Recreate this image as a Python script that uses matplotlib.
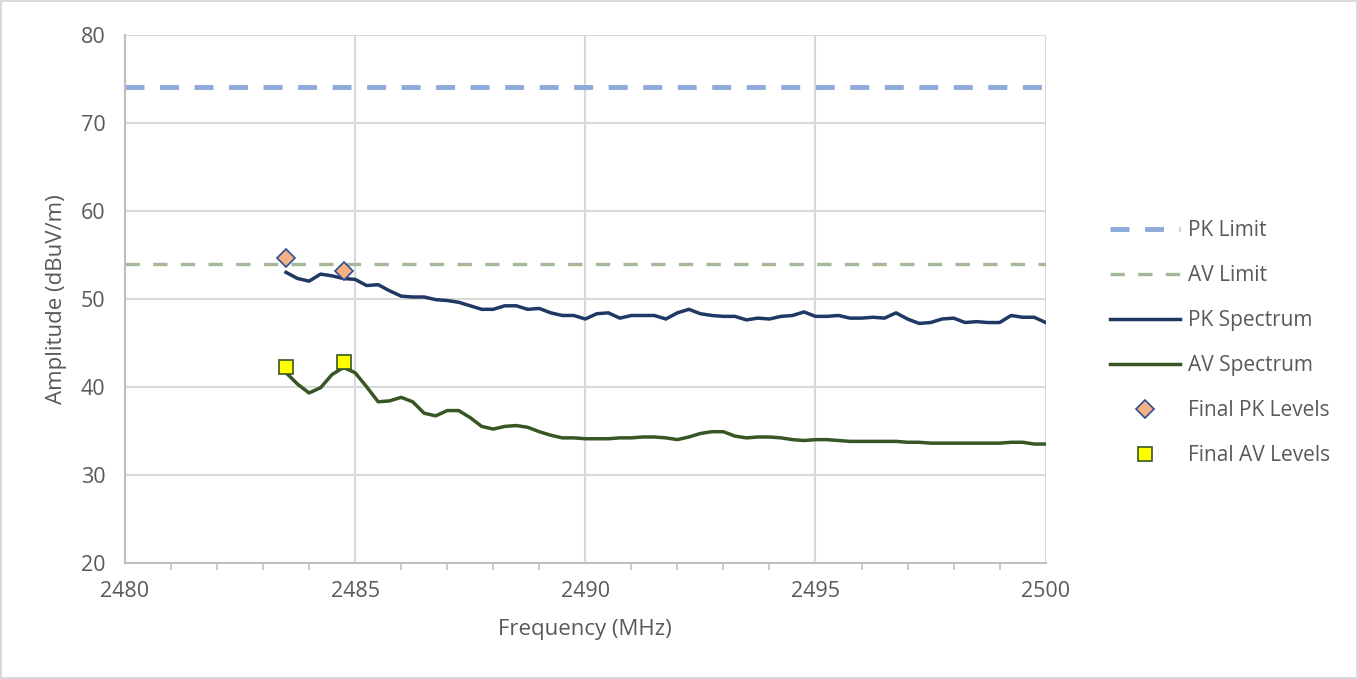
import numpy as np
import matplotlib.pyplot as plt
from matplotlib.ticker import MultipleLocator

# frequencies of the measured spectra (MHz)
freq = np.arange(2483.5, 2500.01, 0.25)

pk_spectrum = [53.0, 52.3, 52.0, 52.8, 52.6, 52.3, 52.2, 51.5, 51.6, 50.9,
               50.3, 50.2, 50.2, 49.9, 49.8, 49.6, 49.2, 48.8, 48.8, 49.2,
               49.2, 48.8, 48.9, 48.4, 48.1, 48.1, 47.7, 48.3, 48.4, 47.8,
               48.1, 48.1, 48.1, 47.7, 48.4, 48.8, 48.3, 48.1, 48.0, 48.0,
               47.6, 47.8, 47.7, 48.0, 48.1, 48.5, 48.0, 48.0, 48.1, 47.8,
               47.8, 47.9, 47.8, 48.4, 47.7, 47.2, 47.3, 47.7, 47.8, 47.3,
               47.4, 47.3, 47.3, 48.1, 47.9, 47.9, 47.3]

av_spectrum = [41.6, 40.3, 39.3, 39.9, 41.4, 42.2, 41.6, 40.0, 38.3, 38.4,
               38.8, 38.3, 37.0, 36.7, 37.3, 37.3, 36.5, 35.5, 35.2, 35.5,
               35.6, 35.4, 34.9, 34.5, 34.2, 34.2, 34.1, 34.1, 34.1, 34.2,
               34.2, 34.3, 34.3, 34.2, 34.0, 34.3, 34.7, 34.9, 34.9, 34.4,
               34.2, 34.3, 34.3, 34.2, 34.0, 33.9, 34.0, 34.0, 33.9, 33.8,
               33.8, 33.8, 33.8, 33.8, 33.7, 33.7, 33.6, 33.6, 33.6, 33.6,
               33.6, 33.6, 33.6, 33.7, 33.7, 33.5, 33.5]

pk_limit = 74
av_limit = 54

final_freq = [2483.5, 2484.76]
final_pk = [54.6, 53.2]
final_av = [42.3, 42.8]

plt.rcParams['font.family'] = ['Open Sans', 'DejaVu Sans']

fig = plt.figure(figsize=(13.58, 6.79), dpi=100)
fig.patch.set_edgecolor('#d9d9d9')
fig.patch.set_linewidth(1.5)
ax = fig.add_axes([0.092, 0.171, 0.678, 0.778])

ax.axhline(pk_limit, color='#8eaadb', lw=3.5, dashes=(3.9, 3.2), label='PK Limit')
ax.axhline(av_limit, color='#a5b89a', lw=2.4, dashes=(4.3, 4.0), label='AV Limit')
ax.plot(freq, pk_spectrum, color='#1f3864', lw=2.5, label='PK Spectrum')
ax.plot(freq, av_spectrum, color='#375623', lw=2.5, label='AV Spectrum')
ax.plot(final_freq, final_pk, ls='none', marker='D', ms=9, mfc='#f4b183',
        mec='#2f4f8f', mew=1.2, label='Final PK Levels')
ax.plot(final_freq, final_av, ls='none', marker='s', ms=10, mfc='#ffff00',
        mec='#375623', mew=1.2, label='Final AV Levels')

ax.set_xlim(2480, 2500)
ax.set_ylim(20, 80)
ax.xaxis.set_major_locator(MultipleLocator(5))
ax.xaxis.set_minor_locator(MultipleLocator(1))
ax.yaxis.set_major_locator(MultipleLocator(10))
ax.grid(True, color='#d9d9d9', lw=1.5)
ax.set_axisbelow(True)

for s in ['top', 'right']:
    ax.spines[s].set_visible(False)
for s in ['left', 'bottom']:
    ax.spines[s].set_color('#bfbfbf')
    ax.spines[s].set_linewidth(1.5)

ax.tick_params(axis='both', which='major', length=0, labelsize=15.5,
               labelcolor='#595959', pad=14)
ax.tick_params(axis='x', which='minor', length=5, color='#bfbfbf', width=1.2,
               direction='out')
ax.tick_params(axis='x', which='major', pad=13)

ax.set_xlabel('Frequency (MHz)', fontsize=16, color='#595959', labelpad=12)
ax.set_ylabel('Amplitude (dBuV/m)', fontsize=16, color='#595959', labelpad=10)

ax.legend(loc='center left', bbox_to_anchor=(1.05, 0.416), frameon=False,
          fontsize=15, labelcolor='#595959', labelspacing=1.15,
          handlelength=3.35, handletextpad=0.35)

fig.savefig('out.png', dpi=100)
